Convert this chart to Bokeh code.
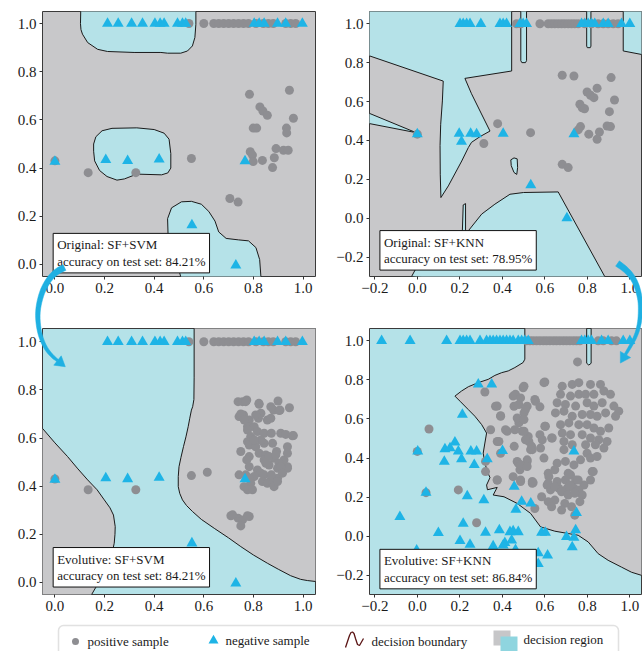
import numpy as np
from bokeh.plotting import figure
from bokeh.layouts import gridplot, column
from bokeh.models import (Range1d, Label, FixedTicker, CustomJSTickFormatter, BoxAnnotation)
from bokeh.core.properties import value
from bokeh.embed import file_html
from bokeh.resources import INLINE

FONT = "Liberation Serif"
GRAY_REGION = "#c8c8ca"
BLUE_REGION = "#b5e2e8"
POS_COLOR = "#8e8e92"
NEG_COLOR = "#1eb4e6"
EDGE = "#1a1a1a"
ARROW = "#1fb0e2"

# ---------------- ticks ----------------
svm_ticks = [0.0, 0.2, 0.4, 0.6, 0.8, 1.0]
knn_ticks = [-0.2, 0.0, 0.2, 0.4, 0.6, 0.8, 1.0]

# ---------------- SVM samples ----------------
svm_row_pos_x = [0.54, 0.60, 0.64, 0.66, 0.68, 0.70, 0.72, 0.74, 0.76, 0.78, 0.81, 0.84, 0.86, 0.88, 0.93, 0.95, 0.97]
svm_row_neg_x = [0.212, 0.255, 0.309, 0.353, 0.403, 0.424, 0.440, 0.494, 0.514, 0.527, 0.803, 0.823, 0.843, 0.897, 0.930, 0.997]
svm_neg_x = [0.0, 0.205, 0.293, 0.42, 0.766, 0.552, 0.729]
svm_neg_y = [0.427, 0.434, 0.43, 0.436, 0.429, 0.163, -0.004]

svm_orig_pos_x = [0.0, 0.134, 0.326, 0.55, 0.705, 0.738, 0.784, 0.945, 0.826, 0.838, 0.856, 0.961, 0.799,
                  0.813, 0.933, 0.934, 0.891, 0.921, 0.940, 0.787, 0.796, 0.799, 0.836, 0.884, 0.877]
svm_orig_pos_y = [0.43, 0.381, 0.381, 0.44, 0.274, 0.259, 0.706, 0.723, 0.654, 0.637, 0.619, 0.607, 0.566,
                  0.566, 0.566, 0.546, 0.481, 0.474, 0.474, 0.468, 0.454, 0.427, 0.432, 0.443, 0.402]

svm_evo_pos_x = [0.0, 0.134, 0.326, 0.55, 0.614, 0.709, 0.738, 0.783, 0.756, 0.749,
                 0.738, 0.773, 0.823, 0.899, 0.945, 0.881, 0.907, 0.830, 0.760, 0.742, 0.783, 0.820, 0.856, 0.870,
                 0.776, 0.803, 0.816, 0.843, 0.872, 0.910, 0.930, 0.961, 0.776, 0.789, 0.776, 0.783, 0.809, 0.843,
                 0.877, 0.937, 0.823, 0.850, 0.749, 0.783, 0.843, 0.883, 0.923, 0.937, 0.903, 0.937, 0.897, 0.863,
                 0.773, 0.783, 0.937, 0.910, 0.816, 0.830, 0.843, 0.870, 0.897, 0.803, 0.742, 0.769, 0.783, 0.789,
                 0.762, 0.836, 0.856, 0.877, 0.776, 0.796, 0.872, 0.917, 0.883, 0.897, 0.863, 0.850, 0.756, 0.809,
                 0.830, 0.803, 0.893, 0.890, 0.769, 0.822, 0.870, 0.904, 0.749, 0.763, 0.957, 0.716, 0.776]
svm_evo_pos_y = [0.43, 0.385, 0.385, 0.444, 0.458, 0.277, 0.267, 0.274, 0.260, 0.235,
                 0.751, 0.758, 0.740, 0.754, 0.726, 0.716, 0.716, 0.703, 0.696, 0.689, 0.675, 0.682, 0.675, 0.682,
                 0.647, 0.647, 0.627, 0.620, 0.620, 0.620, 0.615, 0.610, 0.633, 0.606, 0.585, 0.571, 0.564, 0.578,
                 0.578, 0.564, 0.537, 0.530, 0.544, 0.523, 0.509, 0.516, 0.509, 0.537, 0.495, 0.481, 0.474, 0.488,
                 0.509, 0.481, 0.474, 0.481, 0.467, 0.454, 0.447, 0.426, 0.433, 0.440, 0.447, 0.447, 0.433, 0.412,
                 0.398, 0.419, 0.412, 0.412, 0.385, 0.385, 0.447, 0.454, 0.398, 0.419, 0.523, 0.495, 0.751, 0.696,
                 0.592, 0.592, 0.544, 0.530, 0.751, 0.744, 0.730, 0.714, 0.700, 0.675, 0.609, 0.281, 0.277]

# ---------------- KNN samples ----------------
knn_row_pos_x = [0.467, 0.487, 0.577, 0.616, 0.632, 0.647, 0.663, 0.679, 0.694, 0.710, 0.726, 0.741, 0.757,
                 0.788, 0.820, 0.851, 0.875, 0.898, 0.922, 0.945]
knn_row_neg_x = [0.201, 0.216, 0.232, 0.248, 0.299, 0.389, 0.404, 0.420, 0.483, 0.498, 0.514, 0.773, 0.788,
                 0.804, 0.820, 0.835, 0.875, 0.898, 0.961, 1.0]
knn_orig_pos_x = [0.682, 0.737, 0.912, 0.846, 0.799, 0.815, 0.831, 0.928, 0.765, 0.776, 0.787, 0.904, 0.768,
                  0.757, 0.807, 0.857, 0.893, 0.909, 0.846, 0.533, 0.682, 0.710, 0.378, 0.313, 0.0]
knn_orig_pos_y = [0.735, 0.731, 0.723, 0.668, 0.649, 0.632, 0.620, 0.608, 0.586, 0.568, 0.563, 0.548, 0.471,
                  0.454, 0.432, 0.443, 0.474, 0.471, 0.406, 0.440, 0.277, 0.260, 0.486, 0.384, 0.432]
knn_orig_neg_x = [0.0, 0.197, 0.208, 0.251, 0.279, 0.404, 0.737, 0.534, 0.704]
knn_orig_neg_y = [0.432, 0.435, 0.394, 0.435, 0.432, 0.435, 0.432, 0.170, 0.0]

knn_evo_row_pos_x = [0.514, 0.53, 0.545, 0.561, 0.577, 0.593, 0.608, 0.624, 0.64, 0.655, 0.671, 0.687, 0.702,
                     0.718, 0.734, 0.749, 0.765, 0.851, 0.875, 0.914, 0.937]
knn_evo_row_neg_x = [-0.168, -0.034, 0.138, 0.201, 0.216, 0.232, 0.248, 0.295, 0.326, 0.342, 0.357, 0.373,
                     0.389, 0.404, 0.420, 0.436, 0.451, 0.475, 0.491, 0.506, 0.522, 0.773, 0.788, 0.804, 0.820,
                     0.867, 0.898, 0.969, 1.0]
knn_evo_neg_x = [0.287, 0.350, 0.212, 0.002, 0.130, 0.154, 0.177, 0.193, 0.208, 0.127, 0.252, 0.279, 0.268,
                 0.329, 0.401, 0.737, 0.041, 0.235, 0.313, 0.456, 0.464, 0.491, 0.534, -0.082, 0.216, 0.099,
                 0.321, 0.386, 0.436, 0.451, 0.475, 0.201, 0.248, 0.357, 0.412, 0.444, 0.462, 0.404, 0.585,
                 0.603, 0.569, 0.613, 0.569, 0.702, 0.737, 0.745, 0.729, 0.749, -0.003]
knn_evo_neg_y = [0.777, 0.777, 0.623, 0.434, 0.446, 0.451, 0.480, 0.434, 0.395, 0.382, 0.434, 0.434, 0.365,
                 0.395, 0.437, 0.434, 0.223, 0.206, 0.185, 0.254, 0.137, 0.177, 0.168, 0.099, 0.065, 0.017,
                 0.019, 0.031, 0.022, 0.027, 0.022, -0.024, -0.043, -0.051, -0.034, -0.021, -0.069, -0.046, 0.019,
                 0.019, -0.086, -0.098, -0.141, -0.003, -0.007, 0.031, -0.055, 0.120, -0.072]
knn_evo_pos_x = [0.055, 0.0, 0.041, 0.193, 0.279, 0.754,
                 0.318, 0.368, 0.392, 0.345, 0.423, 0.376, 0.392, 0.470, 0.517, 0.486, 0.541, 0.541, 0.525, 0.494,
                 0.478, 0.502, 0.517, 0.455, 0.321, 0.321, 0.376, 0.451, 0.498, 0.553, 0.600, 0.459, 0.522, 0.538,
                 0.577, 0.600, 0.632, 0.456, 0.475, 0.483, 0.451,
                 0.502, 0.596, 0.462, 0.486, 0.478, 0.509, 0.470, 0.502, 0.376, 0.392, 0.556, 0.577, 0.415, 0.384,
                 0.502, 0.509, 0.603, 0.588, 0.635, 0.580, 0.533, 0.682, 0.729, 0.760, 0.815, 0.862, 0.674, 0.721,
                 0.760, 0.792, 0.831, 0.878, 0.909, 0.658, 0.697, 0.745, 0.799, 0.831, 0.870, 0.925, 0.948, 0.650,
                 0.690, 0.729, 0.776, 0.815, 0.846, 0.886, 0.933, 0.674, 0.713, 0.760, 0.799, 0.831, 0.862, 0.901,
                 0.682, 0.721, 0.776, 0.815, 0.854, 0.893, 0.690, 0.729, 0.792, 0.838, 0.878, 0.690, 0.799, 0.768,
                 0.815, 0.846, 0.658, 0.697, 0.737, 0.517, 0.486, 0.517, 0.596, 0.823, 0.721, 0.619, 0.658, 0.697,
                 0.745, 0.784, 0.815, 0.611, 0.627, 0.666, 0.705, 0.737, 0.760, 0.776, 0.376, 0.486, 0.541,
                 0.616, 0.647, 0.679, 0.710, 0.741, 0.647, 0.694, 0.616, 0.679, 0.726, 0.632, 0.553, 0.741, 0.757,
                 0.585, 0.765, 0.718, 0.616, 0.647, 0.828, 0.710, 0.545]
knn_evo_pos_y = [0.549, 0.434, 0.223, 0.237, 0.069, 0.892,
                 0.738, 0.665, 0.617, 0.545, 0.537, 0.485, 0.425, 0.383, 0.383, 0.288, 0.280, 0.443, 0.485, 0.537,
                 0.580, 0.631, 0.665, 0.665, 0.383, 0.331, 0.288, 0.717, 0.760, 0.700, 0.789, 0.545, 0.511, 0.460,
                 0.520, 0.563, 0.503, 0.460, 0.374, 0.340, 0.305,
                 0.768, 0.786, 0.726, 0.708, 0.674, 0.648, 0.605, 0.597, 0.666, 0.614, 0.691, 0.662, 0.545, 0.485,
                 0.537, 0.494, 0.563, 0.494, 0.503, 0.451, 0.443, 0.768, 0.777, 0.786, 0.777, 0.777, 0.726, 0.717,
                 0.726, 0.726, 0.726, 0.743, 0.726, 0.683, 0.674, 0.666, 0.683, 0.666, 0.683, 0.666, 0.640, 0.631,
                 0.640, 0.614, 0.623, 0.623, 0.614, 0.631, 0.614, 0.571, 0.580, 0.571, 0.571, 0.554, 0.537, 0.554,
                 0.528, 0.520, 0.520, 0.503, 0.494, 0.485, 0.485, 0.468, 0.468, 0.468, 0.451, 0.443, 0.425, 0.391,
                 0.400, 0.408, 0.374, 0.383, 0.365, 0.391, 0.365, 0.357, 0.400, 0.331, 0.314, 0.305, 0.280, 0.288,
                 0.288, 0.262, 0.288, 0.262, 0.237, 0.245, 0.245, 0.245, 0.237, 0.211, 0.288, 0.280, 0.271,
                 0.271, 0.254, 0.228, 0.211, 0.220, 0.185, 0.168, 0.177, 0.134, 0.151, 0.151, 0.142, 0.108, 0.288,
                 0.202, 0.177, 0.262, 0.322, 0.340, 0.331, 0.322, 0.274]

# ---------------- decision boundaries ----------------
svm_o_top_x = [0.105, 0.103, 0.105, 0.111, 0.132, 0.172, 0.212, 0.319, 0.427, 0.454, 0.507, 0.534, 0.554, 0.564, 0.568, 0.568]
svm_o_top_y = [1.10, 1.00, 0.975, 0.956, 0.921, 0.893, 0.884, 0.880, 0.880, 0.877, 0.877, 0.886, 0.907, 0.942, 0.997, 1.10]
svm_o_mid_x = [0.156, 0.165, 0.19, 0.23, 0.33, 0.40, 0.44, 0.46, 0.467, 0.467, 0.455, 0.43, 0.33, 0.28, 0.25, 0.21, 0.18, 0.16, 0.156]
svm_o_mid_y = [0.50, 0.53, 0.555, 0.565, 0.567, 0.56, 0.545, 0.52, 0.46, 0.40, 0.38, 0.372, 0.375, 0.355, 0.35, 0.365, 0.39, 0.43, 0.47]
svm_o_bot_x = [0.52, 0.48, 0.456, 0.454, 0.47, 0.51, 0.55, 0.59, 0.62, 0.645, 0.66, 0.69, 0.74, 0.78, 0.81, 0.825, 0.83, 0.83]
svm_o_bot_y = [-0.10, 0.05, 0.12, 0.19, 0.235, 0.26, 0.262, 0.25, 0.22, 0.18, 0.135, 0.108, 0.102, 0.098, 0.07, 0.02, -0.05, -0.10]

svm_e_left_x = [-0.10, -0.05, 0.0, 0.051, 0.09, 0.132, 0.17, 0.199, 0.222, 0.236, 0.243, 0.242, 0.239, 0.230, 0.219, 0.203, 0.185, 0.165, 0.148, 0.14]
svm_e_left_y = [0.69, 0.64, 0.58, 0.523, 0.475, 0.426, 0.385, 0.343, 0.31, 0.28, 0.232, 0.20, 0.163, 0.12, 0.08, 0.045, 0.011, -0.02, -0.05, -0.10]
svm_e_right_x = [0.561, 0.561, 0.560, 0.555, 0.550, 0.543, 0.537, 0.528, 0.518, 0.508, 0.500, 0.497, 0.497, 0.503, 0.514,
                 0.530, 0.554, 0.59, 0.642, 0.70, 0.749, 0.80, 0.856, 0.90, 0.95, 0.99, 1.017, 1.051, 1.10]
svm_e_right_y = [1.10, 0.85, 0.76, 0.73, 0.716, 0.68, 0.647, 0.605, 0.564, 0.52, 0.481, 0.44, 0.398, 0.37, 0.343,
                 0.32, 0.295, 0.262, 0.225, 0.185, 0.149, 0.114, 0.08, 0.055, 0.028, 0.013, 0.008, 0.004, 0.003]

knn_o_big_x = [-0.30, 0.444, 0.444, 0.224, 0.255, 0.302, 0.342, 0.296, 0.255, 0.240, 0.209, 0.146, 0.111,
               0.108, 0.107, 0.110, 0.118, 0.122, -0.223, -0.30]
knn_o_big_y = [1.10, 1.10, 0.757, 0.719, 0.64, 0.536, 0.448, 0.42, 0.39, 0.363, 0.294, 0.166, 0.106,
               0.226, 0.374, 0.483, 0.603, 0.705, 0.834, 0.834]
knn_o_wedge_x = [-0.30, -0.223, -0.006, -0.223, -0.30]
knn_o_wedge_y = [0.538, 0.538, 0.440, 0.486, 0.486]
knn_o_slot1_x = [0.487, 0.487, 0.492, 0.509, 0.514, 0.514]
knn_o_slot1_y = [1.10, 0.81, 0.80, 0.80, 0.81, 1.10]
knn_o_slot2_x = [0.797, 0.797, 0.80, 0.814, 0.817, 0.817]
knn_o_slot2_y = [1.10, 0.885, 0.877, 0.877, 0.885, 1.10]
knn_o_corner_x = [0.969, 0.969, 1.055, 1.10, 1.10]
knn_o_corner_y = [1.10, 0.86, 0.842, 0.842, 1.10]
knn_o_bottom_x = [-0.027, 0.091, 0.212, 0.216, 0.227, 0.227, 0.240, 0.303, 0.365, 0.436, 0.50, 0.663, 0.882, 0.90]
knn_o_bottom_y = [-0.30, -0.065, -0.065, 0.068, 0.075, -0.082, -0.065, 0.021, 0.072, 0.123, 0.132, 0.135, -0.30, -0.40]
knn_o_island_x = [0.44, 0.455, 0.47, 0.472, 0.468, 0.455, 0.442]
knn_o_island_y = [0.30, 0.31, 0.305, 0.26, 0.225, 0.235, 0.27]

knn_e_bound_x = [0.506, 0.506, 0.498, 0.459, 0.428, 0.397, 0.365, 0.334, 0.287, 0.240, 0.208, 0.177, 0.201, 0.240,
                 0.271, 0.303, 0.326, 0.318, 0.310, 0.318, 0.33, 0.342, 0.326, 0.33, 0.376, 0.357, 0.408, 0.47,
                 0.533, 0.58, 0.647, 0.710, 0.757, 0.804, 0.851, 0.898, 0.961, 1.008, 1.058, 1.10]
knn_e_bound_y = [1.10, 0.906, 0.889, 0.863, 0.846, 0.837, 0.823, 0.803, 0.786, 0.765, 0.743, 0.717, 0.691, 0.648,
                 0.614, 0.571, 0.528, 0.477, 0.425, 0.374, 0.33, 0.30, 0.262, 0.238, 0.25, 0.211, 0.202, 0.168,
                 0.117, 0.048, 0.026, 0.014, 0.005, -0.029, -0.089, -0.123, -0.158, -0.184, -0.201, -0.205]
knn_e_slot_x = [0.818, 0.818, 0.807, 0.797, 0.797]
knn_e_slot_y = [1.10, 0.885, 0.876, 0.885, 1.10]

# ---------------- layout constants (page pixels, origin top-left) ----------------
PAGE_W, PAGE_H = 642, 651
W_L, W_R = 321, 321
H_TOP, H_BOT, H_LEG = 300, 320, 31
BL_L, BR_L, BL_R, BR_R = 42, 6, 48, 1
BT_TOP, BB_TOP, BT_BOT, BB_BOT = 11, 24, 28, 26
SVM_X = (-0.05, 1.05)
SVM_Y1 = (-0.05, 1.05)
SVM_Y3 = (-0.05, 1.055)
KNN_X = (-0.225, 1.055)
KNN_Y2 = (-0.30, 1.063)
KNN_Y4 = (-0.298, 1.063)

fmt = CustomJSTickFormatter(code="return (tick < -1e-9 ? '\\u2212' : '') + Math.abs(tick).toFixed(1);")


def make_panel(xr, yr, tx, ty, w, h, bl, br, bt, bb, bg):
    p = figure(width=w, height=h, x_range=Range1d(*xr), y_range=Range1d(*yr),
               output_backend="svg", toolbar_location=None, title=None,
               min_border_left=bl, min_border_right=br, min_border_top=bt, min_border_bottom=bb,
               background_fill_color=bg, border_fill_color="white")
    p.grid.visible = False
    p.outline_line_color = "#3a3a3a"
    p.outline_line_width = 1
    p.xaxis.ticker = FixedTicker(ticks=tx)
    p.yaxis.ticker = FixedTicker(ticks=ty)
    p.axis.formatter = fmt
    p.axis.axis_line_color = None
    p.axis.major_tick_line_color = "#333333"
    p.axis.major_tick_out = 3
    p.axis.major_tick_in = 0
    p.axis.minor_tick_line_color = None
    p.axis.major_label_text_font = FONT
    p.axis.major_label_text_font_size = "15px"
    p.axis.major_label_text_color = "#1a1a1a"
    p.axis.major_label_standoff = 3
    return p


def region(p, xs, ys, color):
    p.patch(xs, ys, fill_color=color, line_color=EDGE, line_width=1)


def samples(p, px, py, nx, ny):
    p.scatter(px, py, marker="circle", size=9, fill_color=POS_COLOR, line_color=None)
    p.scatter(nx, ny, marker="triangle", size=11, fill_color=NEG_COLOR, line_color=None)


def text_box(p, x, y, txt):
    p.add_layout(Label(x=x, y=y, text=txt, text_font=FONT, text_font_size="13px", text_color="#1a1a1a",
                       text_line_height=1.1, text_align="left", text_baseline="bottom",
                       background_fill_color="white", background_fill_alpha=1.0,
                       border_line_color="#111111", border_line_width=1, padding=4))


# ---------------- panels ----------------
p1 = make_panel(SVM_X, SVM_Y1, svm_ticks, svm_ticks, W_L, H_TOP, BL_L, BR_L, BT_TOP, BB_TOP, GRAY_REGION)
for bx, by in ((svm_o_top_x, svm_o_top_y), (svm_o_mid_x, svm_o_mid_y), (svm_o_bot_x, svm_o_bot_y)):
    region(p1, bx, by, BLUE_REGION)
samples(p1, svm_row_pos_x + svm_orig_pos_x, [1.0] * len(svm_row_pos_x) + svm_orig_pos_y,
        svm_row_neg_x + svm_neg_x, [1.0] * len(svm_row_neg_x) + svm_neg_y)
text_box(p1, -0.007, -0.035, "Original: SF+SVM\naccuracy on test set: 84.21%")

p2 = make_panel(KNN_X, KNN_Y2, knn_ticks, knn_ticks, W_R, H_TOP, BL_R, BR_R, BT_TOP, BB_TOP, GRAY_REGION)
for bx, by in ((knn_o_big_x, knn_o_big_y), (knn_o_wedge_x, knn_o_wedge_y), (knn_o_slot1_x, knn_o_slot1_y),
               (knn_o_slot2_x, knn_o_slot2_y), (knn_o_corner_x, knn_o_corner_y),
               (knn_o_bottom_x, knn_o_bottom_y), (knn_o_island_x, knn_o_island_y)):
    region(p2, bx, by, BLUE_REGION)
samples(p2, knn_row_pos_x + knn_orig_pos_x, [1.0] * len(knn_row_pos_x) + knn_orig_pos_y,
        knn_row_neg_x + knn_orig_neg_x, [1.0] * len(knn_row_neg_x) + knn_orig_neg_y)
text_box(p2, -0.176, -0.267, "Original: SF+KNN\naccuracy on test set: 78.95%")

p3 = make_panel(SVM_X, SVM_Y3, svm_ticks, svm_ticks, W_L, H_BOT, BL_L, BR_L, BT_BOT, BB_BOT, BLUE_REGION)
region(p3, svm_e_left_x + [-0.10], svm_e_left_y + [-0.10], GRAY_REGION)
region(p3, svm_e_right_x + [1.10], svm_e_right_y + [1.10], GRAY_REGION)
samples(p3, svm_row_pos_x + svm_evo_pos_x, [1.0] * len(svm_row_pos_x) + svm_evo_pos_y,
        svm_row_neg_x + svm_neg_x, [1.0] * len(svm_row_neg_x) + svm_neg_y)
text_box(p3, -0.007, -0.019, "Evolutive: SF+SVM\naccuracy on test set: 84.21%")

p4 = make_panel(KNN_X, KNN_Y4, knn_ticks, knn_ticks, W_R, H_BOT, BL_R, BR_R, BT_BOT, BB_BOT, BLUE_REGION)
region(p4, knn_e_bound_x + [1.10] + knn_e_slot_x, knn_e_bound_y + [1.10] + knn_e_slot_y, GRAY_REGION)
samples(p4, knn_evo_row_pos_x + knn_evo_pos_x, [1.0] * len(knn_evo_row_pos_x) + knn_evo_pos_y,
        knn_evo_row_neg_x + knn_evo_neg_x, [1.0] * len(knn_evo_row_neg_x) + knn_evo_neg_y)
text_box(p4, -0.176, -0.269, "Evolutive: SF+KNN\naccuracy on test set: 86.84%")

grid = gridplot([[p1, p2], [p3, p4]], toolbar_location=None)

# ---------------- legend strip ----------------
leg = figure(width=PAGE_W, height=H_LEG, x_range=Range1d(0, PAGE_W), y_range=Range1d(H_LEG, 0),
             output_backend="svg", toolbar_location=None, title=None, min_border=0,
             x_axis_location=None, y_axis_location=None, outline_line_color=None)
leg.grid.visible = False
leg.add_layout(BoxAnnotation(left=58, right=618, top=5, bottom=60, border_radius=5, level="underlay",
                             fill_color="white", fill_alpha=1.0, line_color="#9a9a9a", line_width=1.5))
leg.scatter([75], [21], marker="circle", size=7, fill_color=POS_COLOR, line_color=None)
leg.scatter([213], [20], marker="triangle", size=10, fill_color=NEG_COLOR, line_color=None)
wave_x = [345, 347, 349, 350.5, 352, 353.5, 355, 357, 359, 361, 363]
wave_y = [27, 21, 15, 12, 11.5, 13, 18, 24, 25, 21.5, 18]
leg.line(wave_x, wave_y, line_color="#5a1414", line_width=1.3)
leg.quad(left=[493], right=[510], top=[10], bottom=[25], fill_color="#c6c6c8", line_color=None)
leg.quad(left=[500], right=[517], top=[16], bottom=[32], fill_color="#8fd5df", line_color=None)
leg.text(x=[87, 225, 371, 523], y=[21, 20, 21, 19],
         text=["positive sample", "negative sample", "decision boundary", "decision region"],
         text_font=value(FONT), text_font_size=value("13px"), text_color="#1a1a1a",
         text_baseline="middle", text_align="left")

# ---------------- transparent overlay with the two curved arrows ----------------
def chaikin(pts, n=2):
    pts = np.asarray(pts, float)
    for _ in range(n):
        q = 0.75 * pts[:-1] + 0.25 * pts[1:]
        r = 0.25 * pts[:-1] + 0.75 * pts[1:]
        new = np.empty((2 * len(q), 2))
        new[0::2] = q
        new[1::2] = r
        pts = np.vstack([pts[0], new, pts[-1]])
    return pts


def arrow_shape(path, w0, w1, head_len, head_w):
    c = chaikin(path)
    d = np.gradient(c, axis=0)
    d /= np.linalg.norm(d, axis=1)[:, None]
    nrm = np.stack([-d[:, 1], d[:, 0]], axis=1)
    w = np.linspace(w0, w1, len(c))[:, None] / 2
    shaft = np.vstack([c + nrm * w, (c - nrm * w)[::-1]])
    tip = c[-1] + d[-1] * head_len
    head = np.array([c[-1] + nrm[-1] * head_w, tip, c[-1] - nrm[-1] * head_w])
    return shaft, head


left_arrow_path = [(64, 267), (56, 271), (49, 278), (43, 288), (39, 300), (37, 313), (38, 327), (41, 339),
                   (46, 349), (52, 356), (57, 360)]
right_arrow_path = [(617, 263), (624, 268), (630, 274), (635, 282), (638, 291), (640, 301), (640, 312),
                    (639, 323), (636, 334), (631, 344), (625, 354)]

ov = figure(width=PAGE_W, height=PAGE_H, x_range=Range1d(0, PAGE_W), y_range=Range1d(PAGE_H, 0),
            output_backend="svg", toolbar_location=None, title=None, min_border=0,
            x_axis_location=None, y_axis_location=None, outline_line_color=None,
            background_fill_alpha=0.0, border_fill_alpha=0.0,
            styles={"position": "absolute", "left": "0px", "top": "0px", "z-index": "10",
                    "pointer-events": "none"})
ov.grid.visible = False
for path in (left_arrow_path, right_arrow_path):
    shaft, head = arrow_shape(path, 6.5, 2.6, 10, 6)
    for poly in (shaft, head):
        ov.patch(list(poly[:, 0]), list(poly[:, 1]), fill_color=ARROW, line_color=ARROW, line_width=0.5)

layout = column(grid, leg, ov)
open("out.html", "w").write(file_html(layout, INLINE))
